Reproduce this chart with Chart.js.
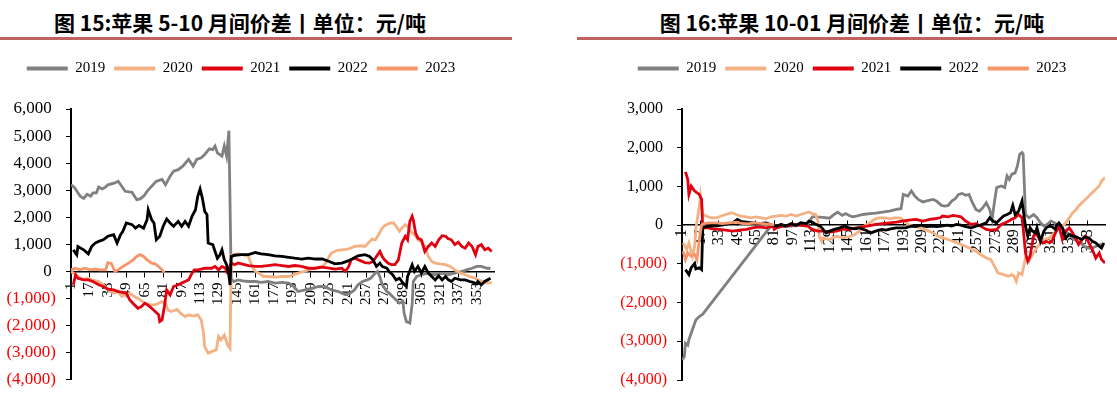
<!DOCTYPE html>
<html>
<head>
<meta charset="utf-8">
<script src="https://cdn.jsdelivr.net/npm/chart.js@4.4.1/dist/chart.umd.min.js"></script>
<style>
  body { margin: 0; width: 1117px; height: 404px; background: #fff; position: relative; overflow: hidden; }
  .title { position: absolute; top: 12px; width: 480px; text-align: center; font: bold 21px/21px 'Noto Sans CJK SC', sans-serif; color: #000; white-space: nowrap; }
  .rule { position: absolute; top: 37px; height: 3px; background: #C0625F; }
  .box { position: absolute; top: 45px; height: 355px; }
</style>
</head>
<body>
<div class="title" style="left:0">图 15:苹果 5-10 月间价差丨单位：元/吨</div>
<div class="rule" style="left:0;width:512px"></div>
<div class="title" style="left:612px">图 16:苹果 10-01 月间价差丨单位：元/吨</div>
<div class="rule" style="left:577px;width:540px"></div>
<div class="box" style="left:-12px;width:521px"><canvas id="c15" width="521" height="355"></canvas></div>
<div class="box" style="left:599px;width:518px"><canvas id="c16" width="518" height="355"></canvas></div>

<script>
// 系列名・色
const YEARS = ['2019', '2020', '2021', '2022', '2023'];
const COLORS = ['#808080', '#F4B183', '#E0000F', '#000000', '#F4956A'];
const X_TICKS = [1, 17, 33, 49, 65, 81, 97, 113, 129, 145, 161, 177, 193, 209, 225, 241, 257, 273, 289, 305, 321, 337, 353];

// 図15: 5-10 月間価差 [交易日, 値]
const f15_2019 = [[1,3200],[4,3100],[9,2780],[12,2700],[15,2850],[18,2780],[20,2900],[23,2900],[25,3120],[28,3050],[31,3120],[33,3200],[39,3270],[42,3330],[45,3150],[48,2960],[54,2920],[58,2650],[61,2680],[64,2780],[67,2960],[71,3150],[75,3330],[80,3400],[83,3200],[87,3520],[90,3700],[94,3760],[98,3890],[103,4140],[107,3890],[110,4140],[114,4200],[117,4320],[121,4530],[124,4500],[126,4630],[128,4380],[132,4260],[134,4630],[136,4260],[138,5200],[140,-250],[142,-370],[146,-310],[150,-350],[155,-370],[161,-370],[166,-400],[172,-370],[178,-430],[184,-400],[190,-430],[194,-550],[198,-740],[204,-680],[210,-620],[216,-555],[221,-555],[227,-680],[233,-740],[239,-860],[243,-800],[247,-680],[250,-490],[254,-370],[258,-310],[261,-250],[265,-60],[267,0],[269,-200],[271,-490],[275,-740],[277,-800],[280,-925],[283,-1050],[286,-1170],[289,-1110],[290,-1540],[292,-1850],[295,-1900],[297,-1200],[298,-370],[301,-185],[305,-120],[311,-60],[317,-120],[323,-60],[328,-120],[334,-60],[340,0],[344,60],[349,120],[353,185],[357,185],[362,120],[365,120]];
const f15_2020 = [[1,0],[3,-60],[7,-185],[12,-310],[15,-250],[19,-310],[25,-370],[29,-490],[33,-680],[38,-800],[42,-740],[45,-925],[48,-860],[52,-800],[56,-925],[61,-1050],[65,-1170],[70,-1230],[74,-1230],[77,-1170],[80,-1110],[83,-1170],[85,-1420],[88,-1480],[93,-1400],[96,-1540],[100,-1670],[103,-1600],[107,-1650],[111,-1600],[114,-1790],[116,-2280],[117,-2780],[120,-3020],[123,-2960],[127,-2900],[129,-2400],[131,-2530],[134,-2350],[137,-2720],[139,-2840],[140,555],[141,620],[146,650],[150,620],[155,555],[158,185],[161,0],[164,-60],[168,-185],[172,-185],[178,-210],[184,-185],[190,-185],[194,-120],[198,-60],[203,0],[207,60],[213,120],[219,185],[222,310],[225,555],[227,680],[232,780],[236,800],[242,830],[247,925],[252,950],[256,925],[259,1050],[262,1200],[265,1170],[268,1360],[270,1540],[273,1690],[278,1790],[281,1790],[283,1670],[286,1480],[288,1600],[291,1730],[293,1670],[297,1420],[300,1300],[302,1170],[305,1110],[308,925],[311,555],[314,370],[317,310],[321,280],[326,250],[330,185],[334,60],[339,-60],[343,-120],[347,-185],[352,-250],[354,-310],[359,-370],[362,-430],[366,-400]];
const f15_2021 = [[3,-490],[5,-120],[7,-250],[12,-310],[16,-310],[20,-370],[25,-490],[29,-555],[33,-650],[38,-680],[42,-740],[46,-770],[49,-800],[52,-1050],[56,-1230],[59,-1360],[62,-1300],[65,-1170],[68,-1250],[71,-1360],[74,-1480],[77,-1600],[78,-1850],[80,-1790],[82,-1300],[84,-680],[87,-860],[90,-555],[94,-490],[97,-430],[100,-370],[103,-310],[106,-60],[108,60],[111,60],[114,90],[117,120],[123,120],[126,185],[129,60],[132,185],[135,120],[136,0],[138,120],[140,310],[143,250],[146,310],[149,280],[155,220],[161,185],[166,185],[172,220],[178,250],[184,220],[190,185],[195,220],[201,185],[207,120],[213,120],[219,160],[225,120],[230,90],[236,120],[239,0],[242,185],[244,430],[247,490],[252,400],[256,330],[260,310],[263,370],[266,555],[269,740],[271,555],[273,430],[276,310],[279,250],[282,250],[285,430],[288,1050],[291,1300],[293,1170],[295,1850],[297,2040],[298,1900],[300,1420],[302,1230],[305,1170],[308,740],[311,925],[314,1050],[317,925],[320,1170],[323,1320],[326,1300],[328,1220],[331,1170],[334,990],[337,1080],[340,925],[343,860],[346,1050],[349,925],[352,620],[354,925],[357,990],[360,800],[363,860],[366,740]];
const f15_2022 = [[3,800],[6,620],[7,925],[12,800],[16,650],[19,925],[22,1050],[25,1110],[29,1170],[33,1300],[38,1360],[41,1050],[44,1360],[46,1480],[49,1790],[54,1730],[57,1600],[60,1700],[64,1600],[67,1910],[68,2280],[71,1910],[73,1790],[75,1170],[78,1300],[81,1670],[84,1940],[87,1790],[90,1670],[94,1850],[97,1670],[100,1850],[103,1670],[106,2040],[109,2280],[111,2780],[113,3050],[115,2700],[117,2220],[119,2100],[120,1050],[124,990],[126,740],[128,490],[130,600],[132,800],[134,430],[136,250],[138,-150],[139,-500],[140,550],[143,600],[149,620],[155,620],[161,700],[166,650],[172,620],[178,580],[184,555],[190,520],[195,490],[201,460],[207,490],[213,460],[219,460],[225,370],[230,280],[236,310],[242,400],[246,490],[250,580],[256,620],[260,555],[263,430],[266,185],[269,310],[271,185],[275,120],[277,0],[280,-120],[283,-310],[286,-250],[289,-430],[292,-555],[293,-185],[297,250],[299,0],[302,185],[305,-60],[308,185],[311,-60],[314,-185],[317,-310],[320,-160],[323,-310],[326,-185],[328,-290],[331,-370],[334,-250],[339,-310],[343,-310],[347,-370],[350,-400],[353,-460],[354,-370],[357,-490],[360,-370],[365,-250]];
const f15_2023 = [[1,60],[5,120],[9,60],[13,120],[18,60],[22,90],[26,60],[31,60],[33,330],[36,300],[39,0],[42,60],[46,185],[51,310],[55,430],[58,555],[61,620],[64,555],[67,430],[71,310],[74,280],[77,185],[80,60],[82,-40]];

// 図16: 10-01 月間価差 [交易日, 値]
const f16_2019 = [[1,-3480],[3,-3400],[4,-3050],[6,-3100],[7,-2960],[10,-2700],[13,-2450],[16,-2360],[19,-2300],[78,-25],[82,-20],[90,-40],[98,-20],[106,0],[110,20],[114,215],[117,215],[123,200],[129,180],[133,275],[136,335],[140,250],[143,300],[146,250],[149,215],[153,240],[158,275],[164,300],[169,310],[175,335],[181,360],[187,405],[191,425],[193,795],[197,750],[200,880],[203,750],[206,665],[210,600],[215,640],[219,665],[222,620],[226,510],[229,490],[232,510],[235,620],[238,680],[241,795],[244,820],[247,770],[250,795],[253,580],[256,405],[259,360],[262,450],[265,580],[268,400],[270,150],[272,580],[274,970],[278,1010],[281,970],[283,1270],[285,1180],[287,1310],[290,1350],[292,1530],[294,1830],[296,1875],[297,1830],[299,275],[302,190],[306,275],[309,190],[312,60],[315,-25],[318,20],[321,105],[324,60],[326,20],[329,0],[332,-110],[335,-200],[338,-285],[341,-370],[344,-415],[347,-460],[350,-545],[353,-590],[356,-600],[360,-550],[364,-500],[367,-520]];
const f16_2020 = [[2,-460],[5,-630],[7,-460],[10,-800],[12,-550],[13,-100],[16,490],[17,750],[19,275],[22,235],[26,190],[31,190],[35,235],[39,275],[44,320],[48,275],[52,235],[57,215],[61,190],[65,215],[70,190],[74,165],[78,215],[83,235],[87,250],[91,235],[96,275],[100,235],[104,275],[109,320],[111,340],[114,300],[117,275],[119,100],[120,-285],[122,-415],[123,-330],[129,-370],[135,-285],[140,-330],[146,-300],[151,-240],[155,-155],[159,-25],[164,60],[168,150],[172,190],[177,190],[181,165],[185,190],[190,190],[192,150],[197,20],[201,-25],[205,-40],[210,-95],[215,-155],[219,-200],[223,-285],[227,-330],[232,-370],[236,-415],[240,-460],[243,-500],[247,-545],[252,-615],[256,-675],[260,-760],[265,-850],[269,-890],[272,-1060],[275,-1230],[280,-1280],[284,-1320],[287,-1280],[289,-1320],[291,-1450],[293,-1230],[296,-1280],[299,-850],[302,-930],[305,-760],[308,-630],[311,-500],[315,-370],[320,-330],[324,-200],[328,-60],[331,-25],[334,60],[337,190],[340,320],[343,405],[345,490],[348,580],[351,665],[354,750],[357,840],[360,925],[363,1010],[365,1140],[368,1230]];
const f16_2021 = [[4,1375],[6,1180],[7,795],[9,1010],[12,880],[16,795],[18,665],[19,-70],[23,-70],[28,-95],[33,-110],[39,-130],[45,-155],[51,-130],[57,-110],[62,-70],[68,-45],[74,-70],[80,-25],[81,-110],[83,-70],[88,-25],[94,-10],[100,20],[106,-10],[110,-25],[114,-110],[119,-155],[123,-155],[129,-180],[135,-155],[140,-110],[146,-110],[152,-70],[158,-45],[164,-10],[169,20],[175,40],[181,60],[187,80],[192,105],[198,130],[204,150],[210,105],[216,150],[220,165],[225,190],[227,235],[232,215],[236,250],[240,235],[243,215],[247,105],[252,20],[256,40],[260,-25],[265,-110],[269,-130],[274,-110],[278,20],[283,80],[287,150],[290,190],[293,275],[296,190],[297,-70],[299,-720],[301,-930],[303,-800],[306,-285],[308,-155],[311,-370],[314,-460],[317,-415],[320,-460],[322,-415],[325,-200],[328,-25],[331,-370],[334,-155],[337,-70],[340,-200],[343,-370],[345,-500],[348,-370],[351,-285],[354,-460],[357,-630],[360,-850],[363,-720],[365,-890],[368,-980]];
const f16_2022 = [[4,-1150],[7,-1280],[9,-1100],[12,-990],[13,-1130],[16,-1100],[18,-1150],[19,-70],[23,-25],[28,-25],[33,-10],[39,20],[45,60],[49,150],[52,100],[57,80],[62,60],[68,40],[74,60],[80,-10],[84,-25],[87,20],[91,-25],[96,40],[100,-10],[104,60],[109,40],[111,105],[114,80],[117,20],[121,-25],[126,-200],[129,-155],[133,-110],[138,-70],[142,-25],[146,-70],[151,-95],[155,-70],[161,-140],[165,-200],[169,-155],[174,-110],[178,-130],[182,-95],[187,-70],[191,-70],[195,-70],[200,-25],[204,-40],[208,0],[213,-40],[218,-25],[222,-40],[226,-25],[231,0],[235,-25],[239,20],[243,0],[247,-40],[252,-70],[256,-25],[260,0],[265,60],[268,190],[271,100],[274,60],[277,150],[280,235],[283,275],[286,320],[288,510],[290,275],[293,360],[296,620],[297,400],[299,-25],[301,-285],[303,-70],[305,-155],[308,-200],[309,-70],[312,-415],[315,-155],[317,-70],[320,-25],[322,-40],[325,-110],[326,0],[328,60],[331,-70],[334,-330],[337,-240],[340,-285],[343,-300],[345,-330],[348,-370],[351,-300],[354,-330],[357,-415],[360,-460],[363,-545],[365,-590],[367,-460]];
const f16_2023 = [[2,-675],[4,-890],[6,-720],[9,-800],[12,-760],[14,-890],[16,-380],[18,0],[20,40],[25,60],[31,60],[36,40],[42,60],[48,80],[54,40],[59,40],[65,60],[71,40],[77,20],[81,0]];

const SERIES15 = [f15_2019, f15_2020, f15_2021, f15_2022, f15_2023];
const SERIES16 = [f16_2019, f16_2020, f16_2021, f16_2022, f16_2023];

Chart.defaults.font.family = "'Liberation Serif', 'Times New Roman', serif";
Chart.defaults.color = '#000';

// 凡例と描画領域の間を空ける
const legendGap = {
  id: 'legendGap',
  beforeLayout(chart) {
    const lg = chart.legend;
    if (!lg || lg.gapPatched) return;
    const fit = lg.fit;
    lg.fit = function () { fit.call(this); this.height += 23; };
    lg.gapPatched = true;
  }
};

function fmtY(v) {
  const s = Math.abs(v).toLocaleString('en-US');
  return v < 0 ? '(' + s + ')' : s + '\u00a0';
}

function makeChart(id, series, yMin, yMax, opt) {
  const datasets = series.map((pts, i) => ({
    label: YEARS[i],
    data: pts.map(p => ({ x: p[0], y: p[1] })),
    borderColor: COLORS[i],
    backgroundColor: COLORS[i],
    borderWidth: 2.8,
    pointRadius: 0,
    tension: 0,
    order: YEARS.length - i   // 後の系列を上に描く
  }));

  return new Chart(document.getElementById(id), {
    type: 'line',
    data: { datasets },
    plugins: [legendGap],
    options: {
      responsive: false,
      animation: false,
      layout: { padding: { top: 7, left: 0, right: opt.padRight, bottom: 20 } },
      plugins: {
        tooltip: { enabled: false },
        legend: {
          labels: {
            boxWidth: 41,
            boxHeight: 4,
            padding: 9,
            font: { size: 15 },
            color: '#000',
            sort: (a, b) => a.datasetIndex - b.datasetIndex,
            generateLabels: chart =>
              Chart.defaults.plugins.legend.labels.generateLabels(chart)
                .map(l => Object.assign(l, { lineWidth: 0, fillStyle: l.strokeStyle }))
          }
        }
      },
      scales: {
        x: {
          type: 'linear',
          min: 1,
          max: 368,
          position: { y: 0 },
          afterBuildTicks: s => { s.ticks = X_TICKS.map(v => ({ value: v })); },
          afterFit: s => { s.height = 0; },
          ticks: {
            autoSkip: false,
            minRotation: 90,
            maxRotation: 90,
            padding: opt.xPad,
            font: { size: opt.xFont },
            color: '#000',
            callback: v => String(v)
          },
          grid: { drawOnChartArea: false, drawTicks: true, tickLength: opt.xTick, color: '#000', lineWidth: 1 },
          border: { display: true, color: '#000', width: 1.5 }
        },
        y: {
          min: yMin,
          max: yMax,
          afterFit: s => { s.width = 83; },
          ticks: {
            stepSize: 1000,
            padding: 10,
            font: { size: opt.yFont },
            color: c => (c.tick && c.tick.value < 0 ? '#FF0000' : '#000'),
            callback: v => fmtY(v)
          },
          grid: { drawOnChartArea: false, drawTicks: true, tickLength: 5, color: '#000', lineWidth: 1 },
          border: { display: true, color: '#000', width: 2 }
        }
      }
    }
  });
}

makeChart('c15', SERIES15, -4000, 6000, { padRight: 15, xFont: 15, yFont: 17, xTick: 5, xPad: 6 });
makeChart('c16', SERIES16, -4000, 3000, { padRight: 12, xFont: 16, yFont: 16, xTick: -5, xPad: 9 });
</script>
</body>
</html>
